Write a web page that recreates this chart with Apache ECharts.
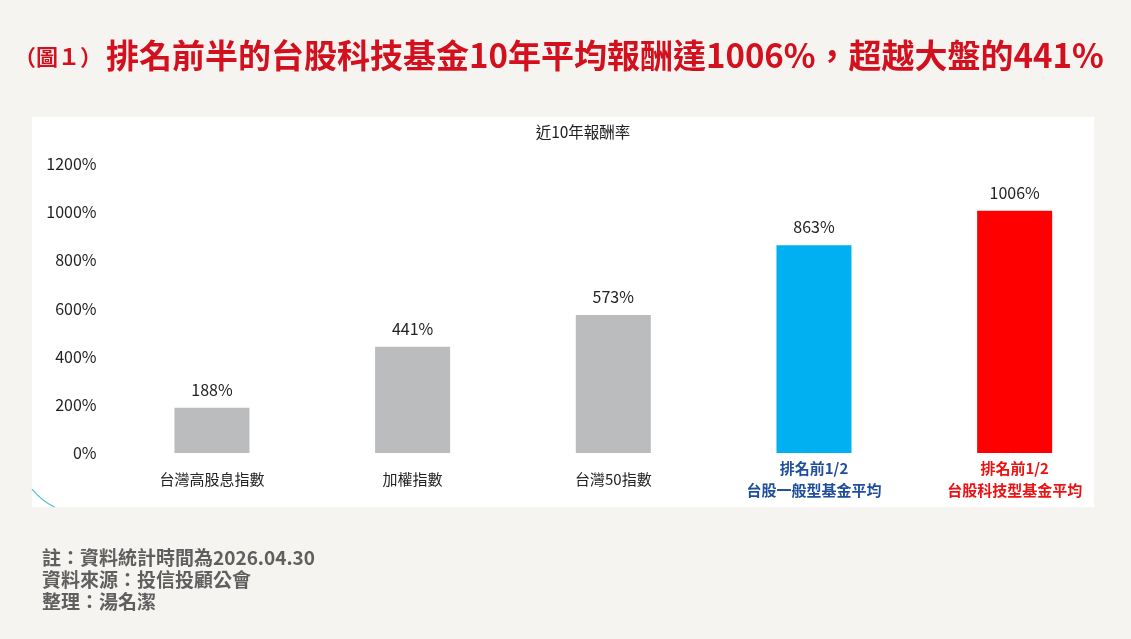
<!DOCTYPE html>
<html>
<head>
<meta charset="utf-8">
<script src="https://cdn.jsdelivr.net/npm/echarts@6/dist/echarts.min.js"></script>
<style>
  html, body { margin: 0; padding: 0; background: #f5f4f1; }
  #main { width: 1131px; height: 639px; }
</style>
</head>
<body>
<div id="main"></div>
<script>
// 類別與數值
var categories = ['台灣高股息指數', '加權指數', '台灣50指數', '排名前1/2\n台股一般型基金平均', '排名前1/2\n台股科技型基金平均'];
var returns = [188, 441, 573, 863, 1006];
var barColors = ['#babcbe', '#babcbe', '#babcbe', '#00b0f0', '#ff0000'];
var labelColors = ['#222222', '#222222', '#222222', '#1f4e9c', '#ee1111'];
var yTicks = [0, 1200, 200];
var notes = ['註：資料統計時間為2026.04.30', '資料來源：投信投顧公會', '整理：湯名潔'];

var font = '"Noto Sans CJK TC", "Noto Sans", sans-serif';

var myChart = echarts.init(document.getElementById('main'));

// 單行標籤往下推，讓它和兩行標籤置中對齊
var catData = categories.map(function (c, i) {
    var twoLines = c.indexOf('\n') >= 0;
    return {
        value: c,
        textStyle: {
            color: labelColors[i],
            fontWeight: twoLines ? 'bold' : 'normal',
            padding: twoLines ? [0, 0, 0, 0] : [11, 0, 0, 0]
        }
    };
});

var barData = returns.map(function (v, i) {
    return { value: v, itemStyle: { color: barColors[i] } };
});

var noteTexts = notes.map(function (t, i) {
    return {
        type: 'text',
        left: 42,
        top: 548 + i * 22,
        style: { text: t, fill: '#5f5f5f', font: 'bold 19px ' + font }
    };
});

var option = {
    backgroundColor: '#f5f4f1',
    textStyle: { fontFamily: font },
    graphic: [
        // 白色圖表底
        {
            type: 'rect',
            z: -10,
            shape: { x: 32, y: 117, width: 1062, height: 390 },
            style: { fill: '#ffffff' }
        },
        // 左下角裝飾弧線
        {
            type: 'arc',
            z: -5,
            shape: { cx: 90, cy: 440, r: 76, startAngle: 2.06, endAngle: 2.44 },
            style: { stroke: '#4cc3cc', lineWidth: 1.2, fill: null }
        },
        {
            type: 'text',
            left: 14,
            top: 39,
            style: {
                text: '{a|（圖１）}{b|排名前半的台股科技基金10年平均報酬達1006%，超越大盤的441%}',
                rich: {
                    a: { fill: '#d3101e', font: 'bold 22px ' + font, verticalAlign: 'bottom', padding: [0, 4, 4, 0] },
                    b: { fill: '#d3101e', font: 'bold 33px ' + font }
                }
            }
        },
        {
            type: 'text',
            x: 583,
            y: 132,
            style: {
                text: '近10年報酬率',
                fill: '#222',
                font: '15.5px ' + font,
                align: 'center',
                verticalAlign: 'middle'
            }
        }
    ].concat(noteTexts),
    grid: {
        left: 111.6,
        right: 16,
        top: 164,
        bottom: 186
    },
    xAxis: {
        type: 'category',
        data: catData,
        axisLine: { show: false },
        axisTick: { show: false },
        axisLabel: {
            interval: 0,
            margin: 4,
            fontSize: 15,
            lineHeight: 22,
            fontFamily: font
        }
    },
    yAxis: {
        type: 'value',
        min: yTicks[0],
        max: yTicks[1],
        interval: yTicks[2],
        splitLine: { show: false },
        axisLine: { show: false },
        axisTick: { show: false },
        axisLabel: {
            formatter: function (v) { return v + '%'; },
            color: '#222',
            fontSize: 16,
            margin: 15,
            fontFamily: font
        }
    },
    series: [{
        type: 'bar',
        data: barData,
        barWidth: 75,
        label: {
            show: true,
            position: 'top',
            distance: 10,
            formatter: '{c}%',
            color: '#222',
            fontSize: 16,
            fontFamily: font
        }
    }]
};

myChart.setOption(option);
</script>
</body>
</html>
